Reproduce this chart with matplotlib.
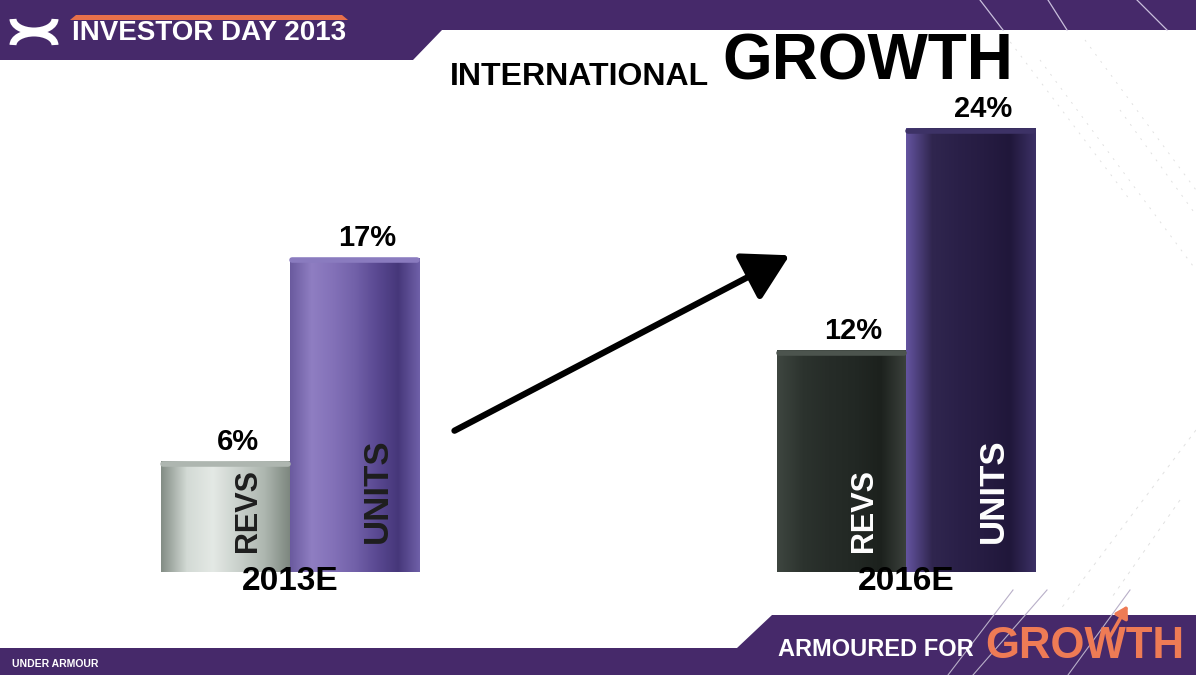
import numpy as np
import matplotlib.pyplot as plt
from matplotlib.colors import LinearSegmentedColormap
from matplotlib.patches import Polygon, Arc, FancyArrowPatch

# values
years = ['2013E', '2016E']
series = ['REVS', 'UNITS']
revs = [6, 12]
units = [17, 24]

purple = '#46296a'
orange = '#ee7b55'

plt.rcParams['font.family'] = ['Liberation Sans', 'DejaVu Sans']

W, H = 1196, 675
fig = plt.figure(figsize=(W / 100, H / 100), dpi=100)

# slide furniture, drawn in pixel units
deco = fig.add_axes([0, 0, 1, 1])
deco.set_xlim(0, W)
deco.set_ylim(H, 0)
deco.axis('off')

deco.add_patch(Polygon([(0, 0), (W, 0), (W, 30), (442, 30), (413, 60), (0, 60)],
                       closed=True, color=purple, lw=0))
deco.add_patch(Polygon([(0, H), (W, H), (W, 615), (772, 615), (737, 648), (0, 648)],
                       closed=True, color=purple, lw=0))
# orange stripe over the header
deco.add_patch(Polygon([(76, 15), (342, 15), (348, 20), (70, 20)], closed=True,
                       color='#e8704a', lw=0))

# rough UA logo
deco.add_patch(Arc((34, 19), 42, 24, theta1=0, theta2=180, color='white', lw=5))
deco.add_patch(Arc((34, 45), 42, 24, theta1=180, theta2=360, color='white', lw=5))

deco.text(72, 33, 'INVESTOR DAY 2013', color='white', fontsize=20,
          fontweight='bold', va='center', ha='left')

# title
deco.text(450, 85, 'INTERNATIONAL', fontsize=23, fontweight='bold', va='baseline')
deco.text(722, 79, 'GROWTH', fontsize=46, fontweight='bold', va='baseline')

# footer
deco.text(12, 664, 'UNDER ARMOUR', color='white', fontsize=7.5,
          fontweight='bold', va='center')
deco.text(778, 650, 'ARMOURED FOR', color='white', fontsize=17,
          fontweight='bold', va='center')
deco.text(985, 646, 'GROWTH', color=orange, fontsize=31.5,
          fontweight='bold', va='center')
deco.add_patch(FancyArrowPatch((1108, 640), (1129, 603), color=orange, lw=2.5,
                               arrowstyle='-|>,head_length=0.5,head_width=0.3',
                               mutation_scale=14))

# thin diagonal streaks
for a, b in [((980, 0), (1003, 30)), ((1048, 0), (1067, 30)), ((1137, 0), (1167, 30))]:
    deco.plot([a[0], b[0]], [a[1], b[1]], color='#c9bfdc', lw=0.9)
for a, b in [((1013, 590), (948, 675)), ((1047, 590), (973, 675)), ((1130, 590), (1068, 675))]:
    deco.plot([a[0], b[0]], [a[1], b[1]], color='#b8afc8', lw=0.8)
for a, b in [((1040, 60), (1196, 270)), ((1085, 40), (1196, 190)),
             ((1120, 110), (1196, 215)), ((1005, 35), (1130, 200))]:
    deco.plot([a[0], b[0]], [a[1], b[1]], color='#888888', lw=0.7, alpha=0.25,
              ls=(0, (2, 7)))
for a, b in [((1196, 430), (1060, 610)), ((1180, 500), (1110, 600))]:
    deco.plot([a[0], b[0]], [a[1], b[1]], color='#888888', lw=0.7, alpha=0.25,
              ls=(0, (3, 6)))

# growth arrow
deco.add_patch(FancyArrowPatch((452, 432), (792, 254), color='black', lw=4.5,
                               arrowstyle='-|>,head_length=1.4,head_width=0.8',
                               mutation_scale=20))

# the bars
ax = fig.add_axes([0, 0, 1, 1])
ax.patch.set_alpha(0)
ax.axis('off')

x = np.arange(len(years))
w = 0.21
rev_bars = ax.bar(x - w / 2, revs, w, color='#999999', lw=0, zorder=2)
unit_bars = ax.bar(x + w / 2, units, w, color='#555555', lw=0, zorder=2)

shades = [
    ['#838d85', '#d3dad5', '#e4e9e5', '#c9d0cb', '#adb6af', '#7b857d'],
    ['#3e4640', '#2c332e', '#262c28', '#222824', '#1c211d', '#3c423d'],
    ['#6a5a9e', '#8f7ec2', '#8371b8', '#7261a9', '#5a4992', '#46377a', '#6f60a8'],
    ['#6454a0', '#30264f', '#2a2048', '#261c42', '#20173a', '#3c3166'],
]
caps = ['#aeb6b0', '#4c544e', '#8a7bbf', '#3d3266']


def shade(rect, cols, cap):
    cmap = LinearSegmentedColormap.from_list('bar', cols)
    x0, h, bw = rect.get_x(), rect.get_height(), rect.get_width()
    im = ax.imshow(np.linspace(0, 1, 256)[None, :], cmap=cmap, aspect='auto',
                   extent=(x0, x0 + bw, 0, h), zorder=2.1)
    im.set_clip_path(rect)
    ax.plot([x0 + 0.004, x0 + bw - 0.004], [h - 0.15, h - 0.15], color=cap,
            lw=4, solid_capstyle='round', zorder=2.2)


for rect, cols, cap in zip(list(rev_bars) + list(unit_bars), shades, caps):
    shade(rect, cols, cap)

txt_cols = [['#1e1e1e', 'white'], ['#1e1e1e', 'white']]
txt_size = [22, 25]
txt_base = [1.1, 1.55]
for i in range(len(years)):
    for j, (name, vals) in enumerate(zip(series, [revs, units])):
        cx = x[i] + (j - 0.5) * w
        ax.text(cx + 0.02, vals[i] + 0.6, f'{vals[i]}%', ha='center', va='baseline',
                fontsize=21, fontweight='bold', zorder=3)
        ax.text(cx + 0.037, txt_base[j], name, rotation=90, ha='center', va='bottom',
                fontsize=txt_size[j], fontweight='bold', color=txt_cols[j][i], zorder=3)
    ax.text(x[i], -0.5, years[i], ha='center', va='center', fontsize=24,
            fontweight='bold', zorder=3)

ax.set_xlim(-290 / 616, (W - 290) / 616)
ax.set_ylim(-(H - 572) / 18.5, 572 / 18.5)

fig.savefig('out.png', dpi=100)
